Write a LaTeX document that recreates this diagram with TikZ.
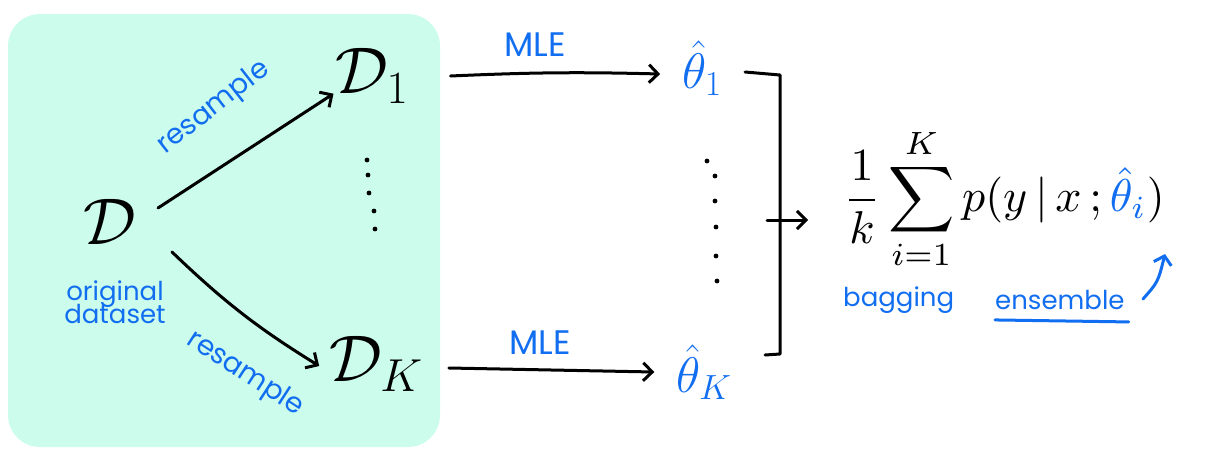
\RequirePackage{fix-cm}
\documentclass[tikz,border=0pt]{standalone}
\usepackage{amsmath}
\usepackage{fontspec}
\newfontfamily\hand{Poppins}
\usetikzlibrary{arrows.meta,calc}
\definecolor{teal}{RGB}{204,252,236}
\definecolor{myblue}{RGB}{18,110,240}
\tikzset{
  ink/.style={line width=3pt, line cap=round, line join=round, black},
  arr/.style={ink, -{Straight Barb[length=9pt,width=18pt,line width=3pt]}},
  barr/.style={line width=3pt, line cap=round, myblue, -{Straight Barb[length=8pt,width=18pt,line width=3pt]}},
  bigD/.style={font=\fontsize{66}{66}\selectfont, inner sep=0pt},
  thetanode/.style={font=\fontsize{50}{50}\selectfont, inner sep=0pt, text=myblue},
  lab/.style={text=myblue, font=\hand\fontsize{28}{28}\selectfont, inner sep=0pt},
  mlelab/.style={text=myblue, font=\hand\fontsize{34}{34}\selectfont, inner sep=0pt},
  formula/.style={font=\fontsize{10}{10}\selectfont, inner sep=0pt, scale=4.6},
}
\begin{document}
\begin{tikzpicture}[x=1pt,y=-1pt]
\useasboundingbox (0,0) rectangle (1214,453);
% background
\fill[teal, rounded corners=32pt] (8,14) rectangle (440,447);

% dataset nodes
\node[bigD] (D) at (110,222) {$\mathcal{D}$};
\node[bigD] (D1) at (372,76) {$\mathcal{D}_{1}$};
\node[bigD] (DK) at (376,364) {$\mathcal{D}_{K}$};

% labels
\node[lab, align=center, font=\hand\fontsize{26}{26}\selectfont] (orig) at (115,302) {original\\[-4pt]dataset};
\node[lab, rotate=38] (rs1) at (214,108) {resample};
\node[lab, rotate=-33] (rs2) at (245,374) {resample};

% arrows from D
\draw[arr] ($(D)+(48,-14)$) -- ($(D1.south west)+(-2,-10)$);
\draw[arr] ($(D)+(62,30)$) to[bend right=6] ($(DK.west)+(-10,2)$);

% vertical dots (left)
\foreach \yy/\xx in {160/367,175/368,193/369,211/374,229/375}
  \fill (\xx,\yy) circle (2.4pt);

% thetas
\node[thetanode] (T1) at (702,68) {$\hat{\theta}_{1}$};
\node[thetanode] (TK) at (704,372) {$\hat{\theta}_{K}$};

% MLE arrows
\draw[arr] ($(D1.east)+(42,0)$) to[bend left=2] ($(T1.west)+(-22,6)$);
\draw[arr] ($(DK.east)+(26,4)$) -- ($(TK.west)+(-22,0)$);
\node[mlelab] (mle1) at (535,45) {MLE};
\node[mlelab] (mle2) at (540,343) {MLE};

% vertical dots (right)
\foreach \yy/\xx in {161/707,176/715,201/715,227/716,256/716,281/717}
  \fill (\xx,\yy) circle (2.4pt);

% bracket
\coordinate (bt0) at (745,72);
\coordinate (bt1) at (780,75);
\coordinate (bb1) at (780,354);
\coordinate (bb0) at (765,355);
\draw[ink] (bt0) -- (bt1) -- (bb1) -- (bb0);
\coordinate (bm) at (767,220);

% formula
\node[formula, anchor=west] (F) at (843,199) {$\displaystyle \frac{1}{k}\sum_{i=1}^{K} p(y\,|\,x\,;\textcolor{myblue}{\hat{\theta}_{i}})$};
\coordinate (fa) at (808,220);
\draw[arr] (bm) -- (fa);

% bagging ensemble
\node[lab, font=\hand\fontsize{26}{26}\selectfont, anchor=west] (bag) at (843,300) {bagging};
\node[lab, font=\hand\fontsize{26}{26}\selectfont, anchor=west] (ens) at (995,300) {ensemble};
\draw[line width=3pt, myblue, line cap=round] ($(ens.south west)+(0,10)$) -- ($(ens.south east)+(4,12)$);
\coordinate (ea) at (1143,299);
\coordinate (eb) at (1165,254);
\draw[barr] (ea) .. controls (1158,282) .. (eb);
\end{tikzpicture}
\end{document}
